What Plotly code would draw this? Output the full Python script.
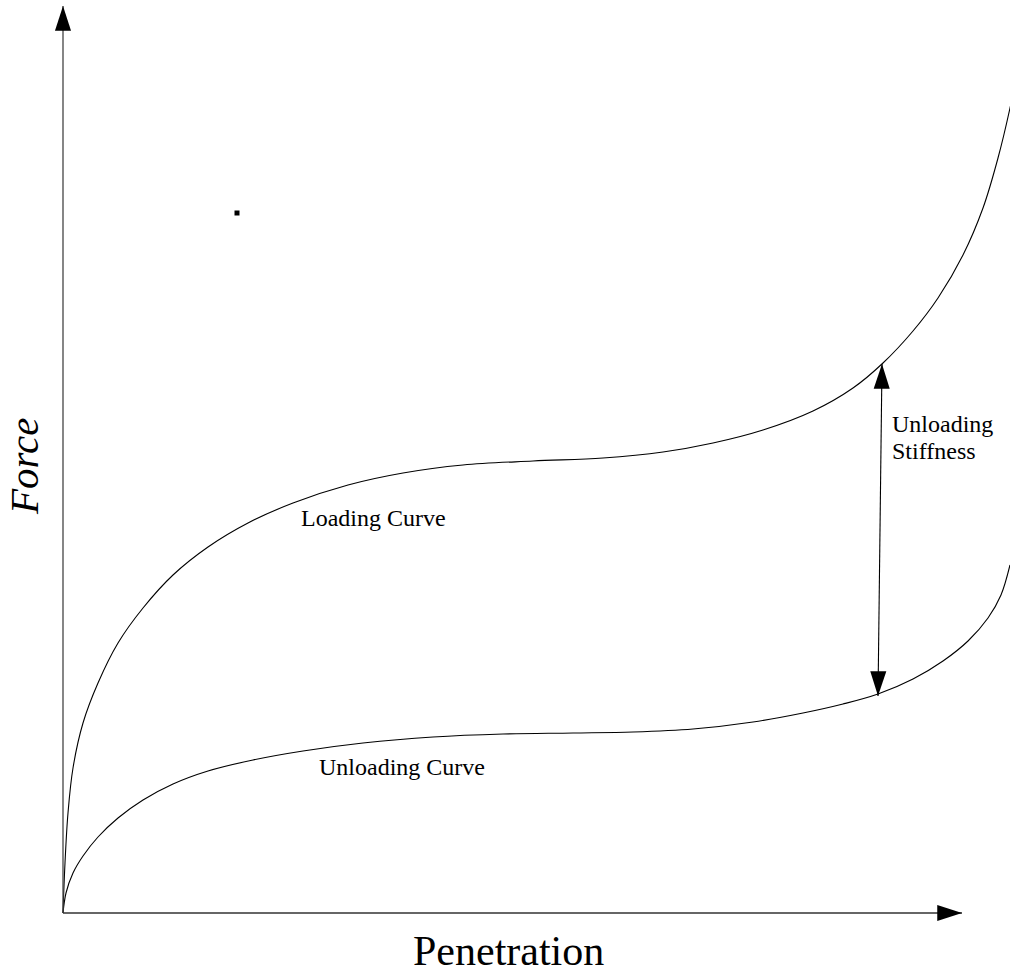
import plotly.graph_objects as go

# schematic load-displacement curves (arbitrary units)
loading_x = [0, 0.02, 0.05, 0.10, 0.20, 0.35, 0.55, 0.80, 1.10, 1.45, 1.85, 2.30, 2.85, 3.40,
             4.00, 4.70, 5.40, 6.00, 6.50, 7.00, 7.50, 7.90, 8.20, 8.50, 8.75, 9.00, 9.20, 9.35, 9.47, 9.52]
loading_y = [0, 0.50, 1.00, 1.45, 1.90, 2.30, 2.70, 3.05, 3.38, 3.66, 3.90, 4.10, 4.28, 4.40,
             4.48, 4.52, 4.55, 4.61, 4.70, 4.83, 5.02, 5.25, 5.50, 5.82, 6.15, 6.58, 7.05, 7.55, 8.05, 8.30]

unloading_x = [0, 0.03, 0.10, 0.20, 0.35, 0.55, 0.80, 1.10, 1.45, 1.90, 2.40, 3.00, 3.70, 4.40,
               5.10, 5.70, 6.30, 6.90, 7.40, 7.80, 8.15, 8.50, 8.80, 9.05, 9.25, 9.38, 9.47]
unloading_y = [0, 0.20, 0.40, 0.57, 0.76, 0.95, 1.13, 1.29, 1.42, 1.53, 1.62, 1.70, 1.76, 1.79,
               1.80, 1.81, 1.84, 1.91, 2.00, 2.09, 2.19, 2.34, 2.52, 2.72, 2.95, 3.18, 3.48]

# unloading stiffness arrow (top, bottom)
stiff_x = [8.19, 8.15]
stiff_y = [5.49, 2.17]

dot_x = [1.74]
dot_y = [7.00]

axis_end_x = 8.99
axis_end_y = 9.07

serif = "Liberation Serif, Times New Roman, serif"
head = 26
head_marker = dict(symbol='arrow', color='black', opacity=1, line=dict(width=0))

fig = go.Figure()
fig.add_trace(go.Scatter(x=loading_x, y=loading_y, mode='lines',
                         line=dict(color='black', width=1.1, shape='spline')))
fig.add_trace(go.Scatter(x=unloading_x, y=unloading_y, mode='lines',
                         line=dict(color='black', width=1.1, shape='spline')))
fig.add_trace(go.Scatter(x=dot_x, y=dot_y, mode='markers',
                         marker=dict(symbol='square', size=5, color='black')))

# axes with arrow heads
fig.add_trace(go.Scatter(x=[0, 0], y=[0, axis_end_y], mode='lines+markers', cliponaxis=False,
                         line=dict(color='#444', width=1.3),
                         marker=dict(head_marker, size=[0, head], angle=[0, 0])))
fig.add_trace(go.Scatter(x=[0, axis_end_x], y=[0, 0], mode='lines+markers', cliponaxis=False,
                         line=dict(color='#333', width=1.3),
                         marker=dict(head_marker, size=[0, head], angle=[0, 90])))

# unloading stiffness double arrow
fig.add_trace(go.Scatter(x=stiff_x, y=stiff_y, mode='lines+markers', cliponaxis=False,
                         line=dict(color='black', width=1.1),
                         marker=dict(head_marker, size=head, angle=[0.7, 180.7])))

lbl = dict(family=serif, size=24, color='black')
fig.add_annotation(x=3.10, y=3.95, text='Loading Curve', showarrow=False, font=lbl)
fig.add_annotation(x=3.39, y=1.46, text='Unloading Curve', showarrow=False, font=lbl)
fig.add_annotation(x=8.27, y=4.89, text='Unloading', showarrow=False, xanchor='left', font=lbl)
fig.add_annotation(x=8.27, y=4.62, text='Stiffness', showarrow=False, xanchor='left', font=lbl)
fig.add_annotation(x=-0.39, y=4.46, text='<i>Force</i>', showarrow=False, textangle=-90,
                   font=dict(family=serif, size=41, color='black'))
fig.add_annotation(x=4.45, y=-0.38, text='Penetration', showarrow=False,
                   font=dict(family=serif, size=42, color='black'))

fig.update_layout(width=1010, height=976, margin=dict(l=0, r=0, t=0, b=0),
                  plot_bgcolor='white', paper_bgcolor='white', showlegend=False,
                  xaxis=dict(range=[-0.63, 9.47], visible=False),
                  yaxis=dict(range=[-0.63, 9.13], visible=False))

# drop the default page margin so the figure sits at the window corner
fig.write_html("out.html", config={'displayModeBar': False},
               post_script="document.body.style.margin='0';")
